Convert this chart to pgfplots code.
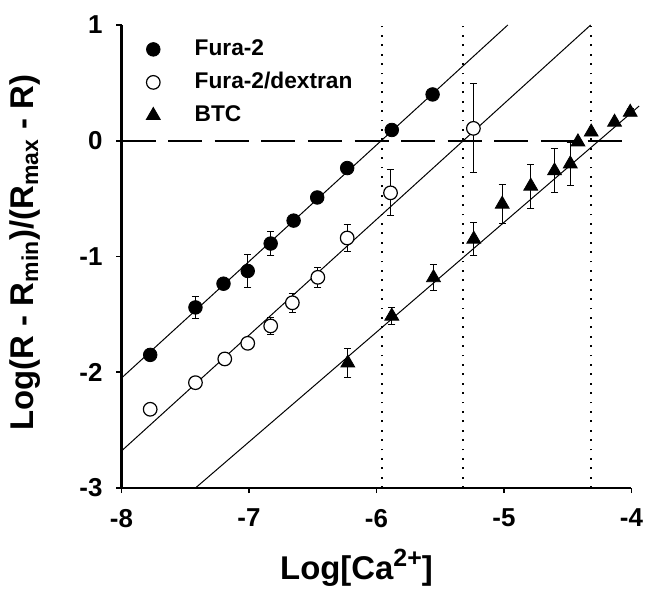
\documentclass[border=0pt]{standalone}
\usepackage{pgfplots}
\pgfplotsset{compat=1.18}
\usepackage{fontspec}
\setmainfont{Liberation Sans}
\pgfplotstableread{
x y e
-7.775 -1.85 0
-7.42 -1.44 0.095
-7.20 -1.235 0
-7.01 -1.125 0.144
-6.83 -0.888 0.10
-6.65 -0.69 0
-6.465 -0.49 0
-6.23 -0.236 0
-5.88 0.093 0
-5.56 0.40 0
}\fura
\pgfplotstableread{
x y e
-7.775 -2.32 0
-7.42 -2.09 0
-7.19 -1.885 0
-7.01 -1.75 0
-6.83 -1.60 0.075
-6.66 -1.40 0.08
-6.46 -1.18 0.087
-6.23 -0.84 0.115
-5.89 -0.45 0.20
-5.24 0.107 0.385
}\dextran
\pgfplotstableread{
x y e
-6.225 -1.92 0.128
-5.88 -1.515 0.075
-5.553 -1.183 0.11
-5.237 -0.85 0.14
-5.014 -0.548 0.17
-4.79 -0.392 0.19
-4.604 -0.26 0.19
-4.48 -0.20 0.185
-4.42 -0.01 0
-4.316 0.075 0
-4.133 0.16 0.02
-4.01 0.246 0.03
}\btc
\begin{document}
\begin{tikzpicture}
\useasboundingbox (-60.75bp,-52.5bp) rectangle (262.75bp,244bp);
\begin{axis}[
  at={(0,0)}, anchor=south west,
  scale only axis, width=255bp, height=231.5bp,
  xmin=-8, xmax=-4, ymin=-3, ymax=1,
  clip=false,
  axis lines*=left,
  xtick={-8,-7,-6,-5,-4}, ytick={-3,-2,-1,0,1},
  xticklabels={-8,-7,-6,-5,-4}, yticklabels={-3,-2,-1,0,1},
  tick align=outside, major tick length=2.5bp,
  tick style={line width=0.8bp, black},
  axis line style={line width=1.1bp},
  ticklabel style={font=\fontsize{13}{13}\selectfont\bfseries},
  xticklabel style={yshift=-4.5bp},
  yticklabel style={xshift=-3.5bp},
  xlabel={Log[Ca\raisebox{0.42em}{\fontsize{12.5}{12.5}\selectfont 2+}]},
  ylabel={Log(R - R\textsubscript{min})/(R\textsubscript{max} - R)},
  label style={font=\fontsize{16.5}{16.5}\selectfont\bfseries},
  xlabel style={at={(axis description cs:0.4608,-0.1987)}, anchor=base},
  ylabel style={at={(axis description cs:-0.1735,0.5086)}, anchor=base},
  legend style={at={(rel axis cs:0,1)}, anchor=north west, xshift=8.5bp, yshift=-4.5bp,
    draw=none, fill=none, inner sep=0pt, row sep=1.5bp,
    font=\fontsize{11.4}{11.4}\selectfont\bfseries,
    nodes={inner sep=1.5bp, text height=9bp, text depth=3bp}},
  legend cell align=left,
  legend image code/.code={\draw[#1] plot coordinates {(0bp,0bp)}; \path (-7bp,0bp) (19bp,0bp);},
]
\addplot[black, line width=0.5bp, forget plot] coordinates {(-8,-2.05) (-4.97,1)};
\addplot[black, line width=0.5bp, forget plot] coordinates {(-8,-2.68) (-4.32,1)};
\addplot[black, line width=0.5bp, forget plot] coordinates {(-7.42,-3) (-3.94,0.30)};
\addplot[black, line width=1.1bp, dash pattern=on 17bp off 6.3bp, forget plot] coordinates {(-8,0) (-4,0)};
\addplot[black, line width=1bp, dash pattern=on 0.9bp off 3.8bp, forget plot] coordinates {(-5.955,-3) (-5.955,1)};
\addplot[black, line width=1bp, dash pattern=on 0.9bp off 3.8bp, forget plot] coordinates {(-5.32,-3) (-5.32,1)};
\addplot[black, line width=1bp, dash pattern=on 0.9bp off 3.8bp, forget plot] coordinates {(-4.316,-3) (-4.316,1)};
\addplot[black, only marks, mark=*, mark size=3.4bp, mark options={fill=black},
  error bars/.cd, y dir=both, y explicit,
  error bar style={line width=0.5bp, black},
  error mark options={rotate=90, mark size=1.8bp, line width=0.5bp, black}]
  table[x=x, y=y, y error=e] {\fura};
\addlegendentry{Fura-2}
\addplot[black, only marks, mark=*, mark size=3.4bp, mark options={fill=white, line width=0.6bp},
  error bars/.cd, y dir=both, y explicit,
  error bar style={line width=0.5bp, black},
  error mark options={rotate=90, mark size=1.8bp, line width=0.5bp, black}]
  table[x=x, y=y, y error=e] {\dextran};
\addlegendentry{Fura-2/dextran}
\addplot[black, only marks, mark=triangle*, mark size=4bp, mark options={fill=black},
  error bars/.cd, y dir=both, y explicit,
  error bar style={line width=0.5bp, black},
  error mark options={rotate=90, mark size=1.8bp, line width=0.5bp, black}]
  table[x=x, y=y, y error=e] {\btc};
\addlegendentry{BTC}
\end{axis}
\end{tikzpicture}
\end{document}
